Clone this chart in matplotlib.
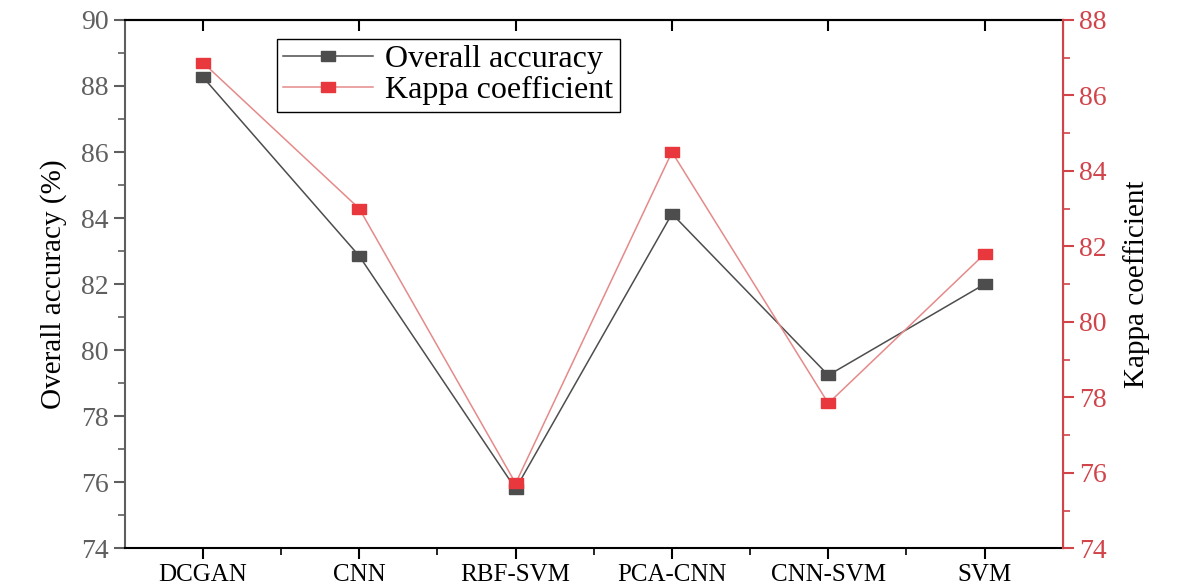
import matplotlib
matplotlib.use("Agg")
import matplotlib.pyplot as plt
from matplotlib.ticker import MultipleLocator, FixedLocator

# Data
methods = ["DCGAN", "CNN", "RBF-SVM", "PCA-CNN", "CNN-SVM", "SVM"]
overall_accuracy = [88.27, 82.85, 75.8, 84.13, 79.24, 82.0]
kappa_coefficient = [86.87, 83.0, 75.72, 84.5, 77.84, 81.8]

plt.rcParams["font.family"] = ["Liberation Serif", "DejaVu Serif"]

dark = "#4d4d4d"
red = "#e8383d"
red_line = "#e58a8a"
red_axis = "#d0444a"
gray_tick = "#5f5f5f"

# wide rectangular marker, as in the original
rect = [(-1.4, -1), (1.4, -1), (1.4, 1), (-1.4, 1), (-1.4, -1)]

fig = plt.figure(figsize=(11.77, 5.87), dpi=100)
ax = fig.add_axes([0.106, 0.066, 0.797, 0.900])
ax2 = ax.twinx()

x = list(range(len(methods)))
l1, = ax.plot(x, overall_accuracy, color=dark, lw=1.1, marker=rect,
              markersize=10, markerfacecolor=dark, markeredgecolor=dark,
              label="Overall accuracy", zorder=3)
l2, = ax2.plot(x, kappa_coefficient, color=red_line, lw=1.1, marker=rect,
               markersize=10, markerfacecolor=red, markeredgecolor=red,
               label="Kappa coefficient", zorder=3)

ax.set_xlim(-0.5, len(methods) - 0.5)
ax.set_ylim(74, 90)
ax2.set_ylim(74, 88)

ax.set_xticks(x)
ax.set_xticklabels(methods)
ax.xaxis.set_minor_locator(FixedLocator([i + 0.5 for i in x[:-1]]))
ax.yaxis.set_major_locator(MultipleLocator(2))
ax.yaxis.set_minor_locator(MultipleLocator(1))
ax2.yaxis.set_major_locator(MultipleLocator(2))
ax2.yaxis.set_minor_locator(MultipleLocator(1))

ax.tick_params(axis="x", which="major", direction="out", length=8, width=1.5,
               colors="black", labelsize=18, pad=3)
ax.tick_params(axis="x", which="minor", direction="out", length=5, width=1.2)
ax.tick_params(axis="y", which="major", direction="out", length=8, width=1.5,
               colors=gray_tick, labelsize=20)
ax.tick_params(axis="y", which="minor", direction="out", length=5, width=1.2,
               colors=gray_tick)
ax2.tick_params(axis="y", which="major", direction="out", length=8, width=1.5,
                colors=red_axis, labelsize=20)
ax2.tick_params(axis="y", which="minor", direction="out", length=5, width=1.2,
                colors=red_axis)

# inward ticks on the top edge
top = ax.secondary_xaxis("top")
top.set_xticks(x)
top.tick_params(direction="in", length=8, width=1.5, labeltop=False)
top.spines["top"].set_linewidth(1.5)

for side in ["top", "bottom"]:
    ax.spines[side].set_linewidth(1.5)
    ax.spines[side].set_color("black")
ax.spines["left"].set_color(gray_tick)
ax.spines["left"].set_linewidth(1.5)
ax2.spines["right"].set_color(red_axis)
ax2.spines["right"].set_linewidth(1.5)
ax2.spines["left"].set_visible(False)
ax2.spines["top"].set_visible(False)
ax2.spines["bottom"].set_visible(False)

ax.set_ylabel("Overall accuracy (%)", fontsize=21, color="black", labelpad=10)
ax2.set_ylabel("Kappa coefficient", fontsize=21, color="black", labelpad=12)

leg = ax.legend(handles=[l1, l2], loc="upper left",
                bbox_to_anchor=(0.145, 0.995), fontsize=23, frameon=True,
                fancybox=False, edgecolor="black", framealpha=1,
                borderpad=0.2, handlelength=2.8, handletextpad=0.4,
                labelspacing=0.05)
leg.get_frame().set_linewidth(1.0)

fig.savefig("out.png", dpi=100)
